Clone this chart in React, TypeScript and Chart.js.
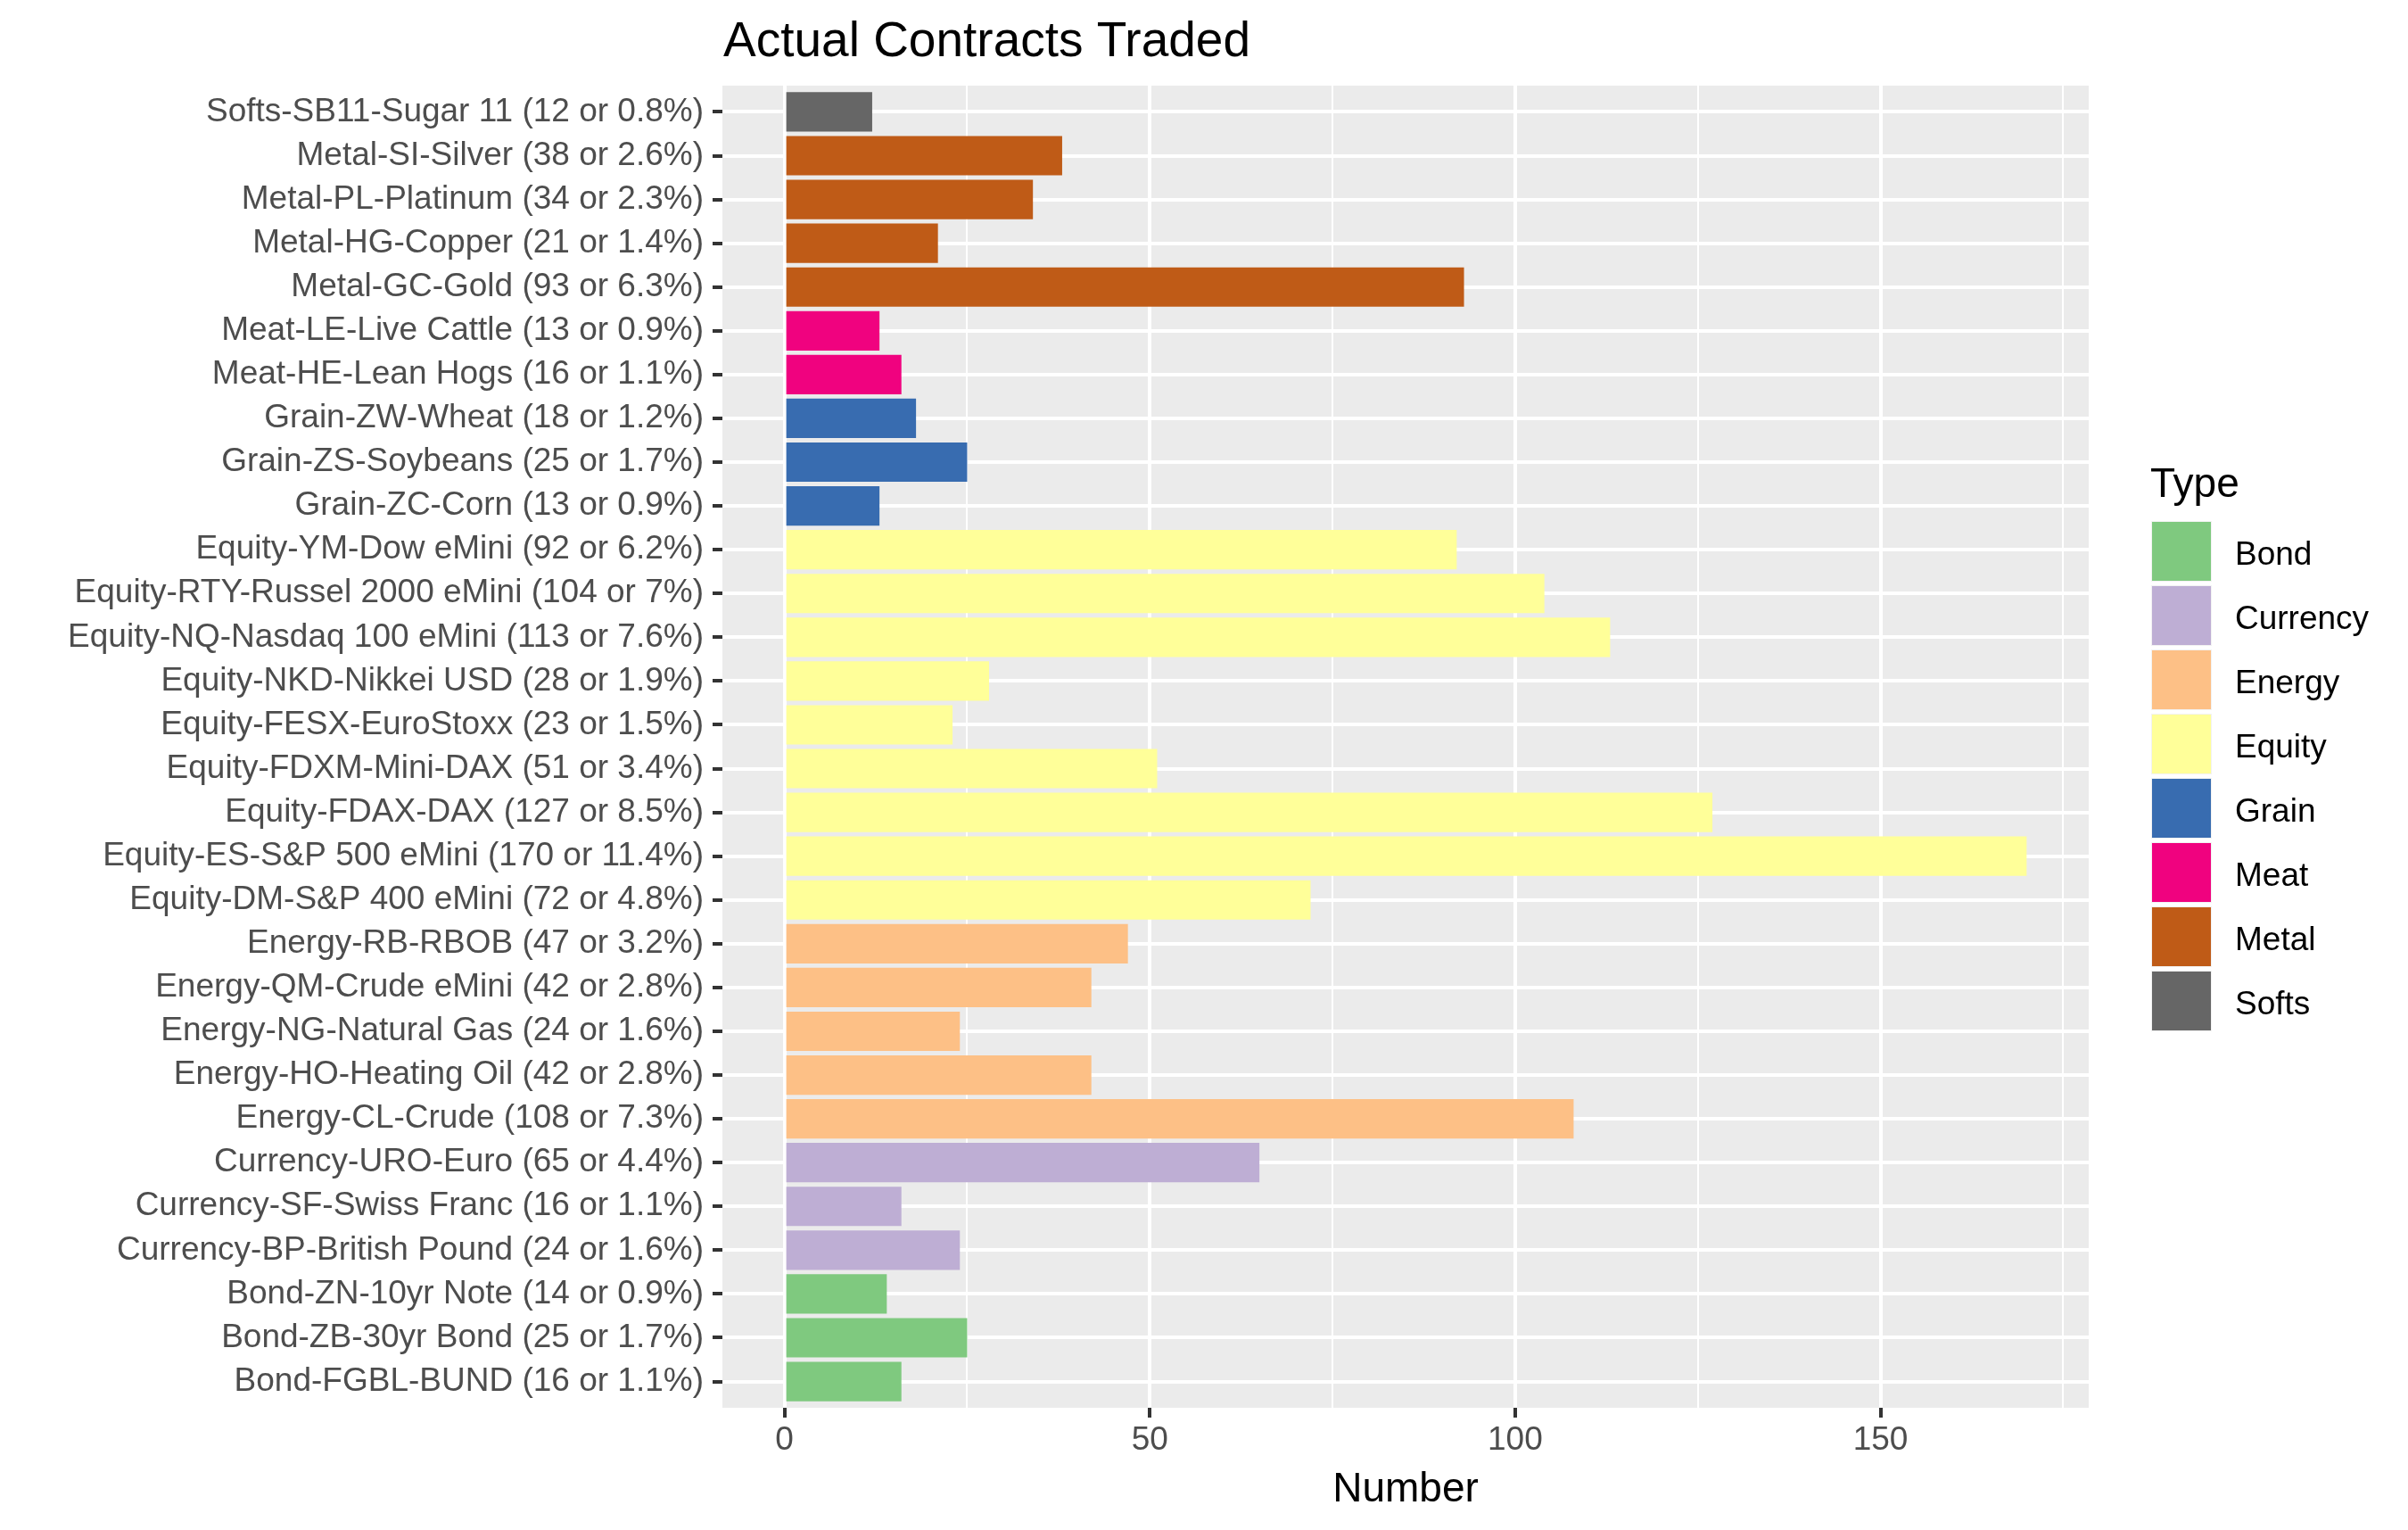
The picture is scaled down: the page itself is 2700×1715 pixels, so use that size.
import React, { useEffect, useRef } from "react";
import { Chart, registerables } from "chart.js";

Chart.register(...registerables);

// ---- data (top to bottom as shown) ----
const names = [
  "Softs-SB11-Sugar 11",
  "Metal-SI-Silver",
  "Metal-PL-Platinum",
  "Metal-HG-Copper",
  "Metal-GC-Gold",
  "Meat-LE-Live Cattle",
  "Meat-HE-Lean Hogs",
  "Grain-ZW-Wheat",
  "Grain-ZS-Soybeans",
  "Grain-ZC-Corn",
  "Equity-YM-Dow eMini",
  "Equity-RTY-Russel 2000 eMini",
  "Equity-NQ-Nasdaq 100 eMini",
  "Equity-NKD-Nikkei USD",
  "Equity-FESX-EuroStoxx",
  "Equity-FDXM-Mini-DAX",
  "Equity-FDAX-DAX",
  "Equity-ES-S&P 500 eMini",
  "Equity-DM-S&P 400 eMini",
  "Energy-RB-RBOB",
  "Energy-QM-Crude eMini",
  "Energy-NG-Natural Gas",
  "Energy-HO-Heating Oil",
  "Energy-CL-Crude",
  "Currency-URO-Euro",
  "Currency-SF-Swiss Franc",
  "Currency-BP-British Pound",
  "Bond-ZN-10yr Note",
  "Bond-ZB-30yr Bond",
  "Bond-FGBL-BUND",
];

const counts = [
  12, 38, 34, 21, 93, 13, 16, 18, 25, 13, 92, 104, 113, 28, 23, 51, 127, 170,
  72, 47, 42, 24, 42, 108, 65, 16, 24, 14, 25, 16,
];

const shares = [
  "0.8", "2.6", "2.3", "1.4", "6.3", "0.9", "1.1", "1.2", "1.7", "0.9", "6.2",
  "7", "7.6", "1.9", "1.5", "3.4", "8.5", "11.4", "4.8", "3.2", "2.8", "1.6",
  "2.8", "7.3", "4.4", "1.1", "1.6", "0.9", "1.7", "1.1",
];

const types = [
  "Softs", "Metal", "Metal", "Metal", "Metal", "Meat", "Meat", "Grain", "Grain",
  "Grain", "Equity", "Equity", "Equity", "Equity", "Equity", "Equity", "Equity",
  "Equity", "Equity", "Energy", "Energy", "Energy", "Energy", "Energy",
  "Currency", "Currency", "Currency", "Bond", "Bond", "Bond",
];

const typeOrder = ["Bond", "Currency", "Energy", "Equity", "Grain", "Meat", "Metal", "Softs"];
const typeColors = ["#7FC97F", "#BEAED4", "#FDC086", "#FFFF99", "#386CB0", "#F0027F", "#BF5B17", "#666666"];

const xTicks = [0, 25, 50, 75, 100, 125, 150, 175];
const xMajor = [0, 50, 100, 150];

const titleText = "Actual Contracts Traded";
const xTitleText = "Number";
const legendTitle = "Type";

const labels = names.map((n, i) => `${n} (${counts[i]} or ${shares[i]}%)`);

const FONT = '"Liberation Sans", Arial, Helvetica, sans-serif';

const decor = {
  id: "decor",
  beforeDraw(chart: any) {
    const { ctx, chartArea: a } = chart;
    ctx.save();
    ctx.fillStyle = "#FFFFFF";
    ctx.fillRect(0, 0, chart.width, chart.height);
    ctx.fillStyle = "#EBEBEB";
    ctx.fillRect(a.left, a.top, a.right - a.left, a.bottom - a.top);
    ctx.restore();
  },
  afterDraw(chart: any) {
    const { ctx, chartArea: a } = chart;
    ctx.save();
    ctx.fillStyle = "#000000";
    ctx.textBaseline = "alphabetic";
    // title
    ctx.font = `55px ${FONT}`;
    ctx.textAlign = "left";
    ctx.fillText(titleText, a.left + 1, 63);
    // x axis title
    ctx.font = `46px ${FONT}`;
    ctx.textAlign = "center";
    ctx.fillText(xTitleText, (a.left + a.right) / 2, 1683);
    // legend
    const lx = 2413;
    ctx.textAlign = "left";
    ctx.font = `46px ${FONT}`;
    ctx.fillText(legendTitle, lx - 2, 557);
    ctx.font = `37px ${FONT}`;
    typeOrder.forEach((t, i) => {
      const y = 585 + i * 72;
      ctx.fillStyle = "#F2F2F2";
      ctx.fillRect(lx - 1, y - 1, 68, 68);
      ctx.fillStyle = typeColors[i];
      ctx.fillRect(lx, y, 66, 66);
      ctx.fillStyle = "#000000";
      ctx.fillText(t, 2506, y + 48);
    });
    ctx.restore();
  },
};

export default function App() {
  const ref = useRef<HTMLCanvasElement | null>(null);

  useEffect(() => {
    if (!ref.current) return;
    const chart = new Chart(ref.current, {
      type: "bar",
      data: {
        datasets: [
          {
            data: counts.map((c, i) => ({ x: c, y: i })) as any,
            backgroundColor: types.map((t) => typeColors[typeOrder.indexOf(t)]),
            borderWidth: 0,
            barPercentage: 0.9,
            categoryPercentage: 1,
          },
        ],
      },
      options: {
        indexAxis: "y",
        responsive: false,
        animation: false,
        devicePixelRatio: 1,
        layout: { padding: { top: 96, right: 358, bottom: 0, left: 0 } },
        plugins: {
          legend: { display: false },
          title: { display: false },
          tooltip: { enabled: false },
        },
        scales: {
          x: {
            type: "linear",
            position: "bottom",
            min: -8.5,
            max: 178.5,
            offset: false,
            afterBuildTicks: (scale: any) => {
              scale.ticks = xTicks.map((v) => ({ value: v }));
            },
            afterFit: (scale: any) => {
              scale.height = 137;
            },
            ticks: {
              autoSkip: false,
              maxRotation: 0,
              padding: 4,
              color: "#4D4D4D",
              font: { family: FONT, size: 37 },
              callback: (v: any) => (xMajor.includes(Number(v)) ? String(v) : ""),
            },
            grid: {
              offset: false,
              color: "#FFFFFF",
              lineWidth: (c: any) => (c.tick && xMajor.includes(c.tick.value) ? 4 : 2),
              drawTicks: true,
              tickLength: 11,
              tickWidth: 4,
              tickColor: (c: any) =>
                c.tick && xMajor.includes(c.tick.value) ? "#333333" : "rgba(0,0,0,0)",
            },
            border: { display: false },
          },
          y: {
            type: "linear",
            position: "left",
            reverse: true,
            min: -0.6,
            max: 29.6,
            offset: false,
            afterBuildTicks: (scale: any) => {
              scale.ticks = labels.map((_, i) => ({ value: i }));
            },
            afterFit: (scale: any) => {
              scale.width = 810;
            },
            ticks: {
              autoSkip: false,
              padding: 10,
              color: "#4D4D4D",
              font: { family: FONT, size: 37 },
              callback: (v: any) => labels[Number(v)] ?? "",
            },
            grid: {
              offset: false,
              color: "#FFFFFF",
              lineWidth: 4,
              drawTicks: true,
              tickLength: 11,
              tickWidth: 4,
              tickColor: "#333333",
            },
            border: { display: false },
          },
        },
      },
      plugins: [decor],
    } as any);
    return () => chart.destroy();
  }, []);

  return (
    <div style={{ position: "absolute", left: 0, top: 0, width: 2700, height: 1715, background: "#FFFFFF" }}>
      <canvas ref={ref} width={2700} height={1715} style={{ width: 2700, height: 1715, display: "block" }} />
    </div>
  );
}
